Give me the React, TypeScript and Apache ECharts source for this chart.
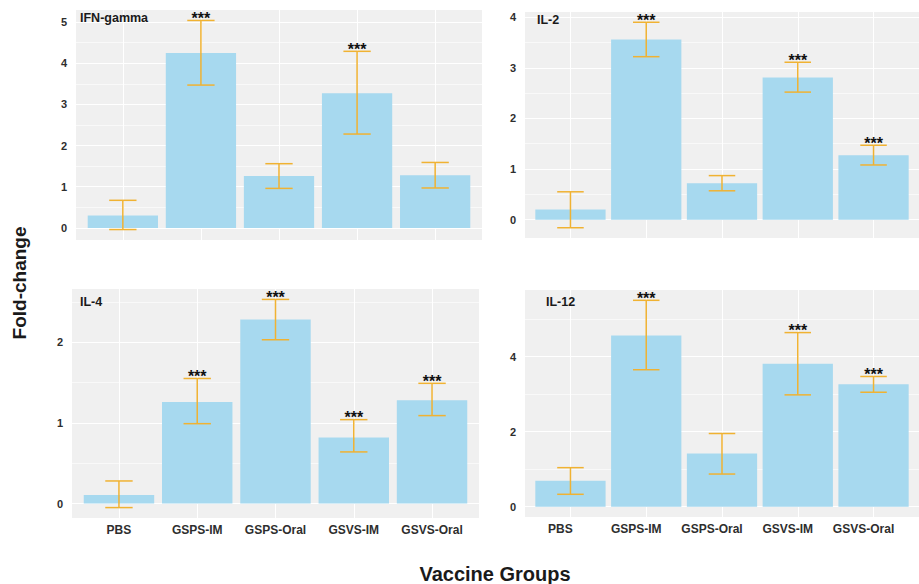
import React, { useEffect, useRef } from 'react';
import * as echarts from 'echarts';

const categories = ['PBS', 'GSPS-IM', 'GSPS-Oral', 'GSVS-IM', 'GSVS-Oral'];
const categoryPositions = [0, 1, 2, 3, 4];

const ifnMean = [0.3, 4.25, 1.26, 3.27, 1.28];
const ifnLower = [-0.04, 3.47, 0.96, 2.28, 0.97];
const ifnUpper = [0.67, 5.04, 1.56, 4.29, 1.59];
const ifnStars = [0, 1, 0, 1, 0];
const ifnTicks = [0, 1, 2, 3, 4, 5];
const ifnMinor = [0.5, 1.5, 2.5, 3.5, 4.5];

const il2Mean = [0.2, 3.56, 0.72, 2.81, 1.27];
const il2Lower = [-0.16, 3.22, 0.57, 2.52, 1.08];
const il2Upper = [0.55, 3.9, 0.87, 3.11, 1.47];
const il2Stars = [0, 1, 0, 1, 1];
const il2Ticks = [0, 1, 2, 3, 4];
const il2Minor = [0.5, 1.5, 2.5, 3.5];

const il4Mean = [0.107, 1.26, 2.28, 0.82, 1.28];
const il4Lower = [-0.05, 0.99, 2.03, 0.64, 1.09];
const il4Upper = [0.28, 1.55, 2.53, 1.04, 1.49];
const il4Stars = [0, 1, 1, 1, 1];
const il4Ticks = [0, 1, 2];
const il4Minor = [0.5, 1.5, 2.5];

const il12Mean = [0.69, 4.56, 1.42, 3.81, 3.26];
const il12Lower = [0.33, 3.65, 0.87, 2.98, 3.05];
const il12Upper = [1.04, 5.5, 1.95, 4.64, 3.47];
const il12Stars = [0, 1, 0, 1, 1];
const il12Ticks = [0, 2, 4];
const il12Minor = [1, 3, 5];

const panels = [
  { name: 'IFN-gamma', mean: ifnMean, lower: ifnLower, upper: ifnUpper, stars: ifnStars, major: ifnTicks, minor: ifnMinor },
  { name: 'IL-2', mean: il2Mean, lower: il2Lower, upper: il2Upper, stars: il2Stars, major: il2Ticks, minor: il2Minor },
  { name: 'IL-4', mean: il4Mean, lower: il4Lower, upper: il4Upper, stars: il4Stars, major: il4Ticks, minor: il4Minor },
  { name: 'IL-12', mean: il12Mean, lower: il12Lower, upper: il12Upper, stars: il12Stars, major: il12Ticks, minor: il12Minor },
];

const layouts = [
  { left: 76, top: 10, width: 406, height: 230, titleX: 80, titleY: 18, showX: false, labelShift: 0 },
  { left: 525, top: 12, width: 406, height: 226, titleX: 537, titleY: 20, showX: false, labelShift: 0 },
  { left: 72, top: 289, width: 407, height: 229, titleX: 80, titleY: 302, showX: true, labelShift: 0 },
  { left: 525, top: 290, width: 406, height: 227, titleX: 546, titleY: 302, showX: true, labelShift: 20 },
];

const FONT = '"Liberation Sans", Arial, Helvetica, sans-serif';
const BAR_COLOR = '#A7D9EF';
const ERR_COLOR = '#F0B232';
const PANEL_BG = '#F0F0F0';

export default function App() {
  const ref = useRef<HTMLDivElement>(null);

  useEffect(() => {
    if (!ref.current) return;
    const chart = echarts.init(ref.current, null, { renderer: 'svg' });

    const grid: any[] = [];
    const xAxis: any[] = [];
    const yAxis: any[] = [];
    const series: any[] = [];
    const graphic: any[] = [];

    panels.forEach((p, i) => {
      const l = layouts[i];
      const lo = Math.min(0, ...p.lower);
      const hi = Math.max(...p.upper, ...p.mean);
      const pad = (hi - lo) * 0.05;
      const yMin = lo - pad;
      const yMax = hi + pad;

      grid.push({
        left: l.left, top: l.top, width: l.width, height: l.height,
        show: true, backgroundColor: PANEL_BG, borderWidth: 0,
      });

      xAxis.push({
        type: 'value', gridIndex: i, min: -0.6, max: 4.6,
        axisLine: { show: false },
        axisTick: { show: false, customValues: categoryPositions },
        splitLine: { show: true, lineStyle: { color: '#ffffff', width: 1.1 } },
        axisLabel: {
          show: l.showX,
          customValues: categoryPositions,
          formatter: (v: number) => categories[Math.round(v)] ?? '',
          fontFamily: FONT, fontWeight: 'bold', fontSize: 12, color: '#2e2e2e',
          margin: 6,
          padding: [0, l.labelShift, 0, 0],
        },
      });

      yAxis.push({
        type: 'value', gridIndex: i, min: yMin, max: yMax,
        axisLine: { show: false },
        axisTick: { show: false, customValues: p.major },
        splitLine: { show: true, lineStyle: { color: '#ffffff', width: 1.1 } },
        axisLabel: {
          customValues: p.major,
          fontFamily: FONT, fontWeight: 'bold', fontSize: 11, color: '#2e2e2e',
          margin: 9,
        },
      });
      yAxis.push({
        type: 'value', gridIndex: i, min: yMin, max: yMax,
        axisLine: { show: false },
        axisTick: { show: false, customValues: p.minor },
        splitLine: { show: true, lineStyle: { color: '#ffffff', width: 0.6 } },
        axisLabel: { show: false, customValues: p.minor },
      });

      series.push({
        type: 'bar', xAxisIndex: i, yAxisIndex: i * 2,
        barWidth: (0.9 * l.width) / 5.2,
        itemStyle: { color: BAR_COLOR },
        data: p.mean.map((v, j) => [categoryPositions[j], v]),
        z: 2,
      });

      series.push({
        type: 'custom', xAxisIndex: i, yAxisIndex: i * 2,
        clip: false, z: 3,
        encode: { x: 0, y: [1, 2] },
        data: p.mean.map((_, j) => [categoryPositions[j], p.lower[j], p.upper[j], p.stars[j]]),
        renderItem: (params: any, api: any) => {
          const x = api.value(0);
          const lowV = api.value(1);
          const highV = api.value(2);
          const star = api.value(3);
          const pHi = api.coord([x, highV]);
          const pLo = api.coord([x, lowV]);
          const half = api.size([1, 0])[0] * 0.175;
          const ls = { stroke: ERR_COLOR, lineWidth: 1.5 };
          const children: any[] = [
            { type: 'line', shape: { x1: pHi[0], y1: pHi[1], x2: pLo[0], y2: pLo[1] }, style: ls },
            { type: 'line', shape: { x1: pHi[0] - half, y1: pHi[1], x2: pHi[0] + half, y2: pHi[1] }, style: ls },
            { type: 'line', shape: { x1: pLo[0] - half, y1: pLo[1], x2: pLo[0] + half, y2: pLo[1] }, style: ls },
          ];
          if (star) {
            children.push({
              type: 'text',
              style: {
                text: '***', x: pHi[0], y: pHi[1] - 2,
                align: 'center', verticalAlign: 'middle',
                fontFamily: FONT, fontWeight: 'bold', fontSize: 16, fill: '#111111',
              },
            });
          }
          return { type: 'group', children };
        },
      });

      graphic.push({
        type: 'text', x: l.titleX, y: l.titleY, z: 10,
        style: {
          text: p.name, fontFamily: FONT, fontWeight: 'bold', fontSize: 12.5,
          fill: '#1a1a1a', align: 'left', verticalAlign: 'middle',
        },
      });
    });

    graphic.push({
      type: 'text', x: 19, y: 283, rotation: Math.PI / 2,
      style: {
        text: 'Fold-change', fontFamily: FONT, fontWeight: 'bold', fontSize: 19,
        fill: '#1a1a1a', align: 'center', verticalAlign: 'middle',
      },
    });
    graphic.push({
      type: 'text', x: 495, y: 574,
      style: {
        text: 'Vaccine Groups', fontFamily: FONT, fontWeight: 'bold', fontSize: 20,
        fill: '#1a1a1a', align: 'center', verticalAlign: 'middle',
      },
    });

    chart.setOption({
      animation: false,
      backgroundColor: '#ffffff',
      grid,
      xAxis,
      yAxis,
      series,
      graphic,
    });

    return () => chart.dispose();
  }, []);

  return (
    <div
      ref={ref}
      style={{ position: 'fixed', left: 0, top: 0, width: 919, height: 584 }}
    />
  );
}
